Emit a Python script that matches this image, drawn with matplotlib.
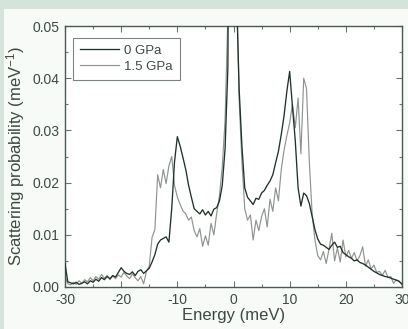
import numpy as np
import matplotlib.pyplot as plt
from matplotlib.patches import Rectangle
from matplotlib.ticker import MultipleLocator

plt.rcParams['font.family'] = ['Liberation Sans', 'DejaVu Sans']
plt.rcParams['mathtext.fontset'] = 'custom'
plt.rcParams['mathtext.rm'] = 'Liberation Sans'
plt.rcParams['mathtext.it'] = 'Liberation Sans'
plt.rcParams['axes.unicode_minus'] = False

# energy grid, 0.5 meV steps from -30 to 30
energy = np.arange(-30, 30.01, 0.5)

# 0 GPa (dark)
p0 = [
    0.0045, 0.0010, 0.0008, 0.0006, 0.0009, 0.0005, 0.0007, 0.0010, 0.0006, 0.0012,
    0.0009, 0.0015, 0.0011, 0.0018, 0.0014, 0.0020, 0.0016, 0.0022, 0.0019, 0.0028,
    0.0037, 0.0030, 0.0026, 0.0024, 0.0029, 0.0022, 0.0030, 0.0033, 0.0026, 0.0031,
    0.0036, 0.0048, 0.0062, 0.0082, 0.0090, 0.0093, 0.0096, 0.0086, 0.0150, 0.0240,
    0.0288, 0.0270, 0.0248, 0.0225, 0.0195, 0.0172, 0.0150, 0.0145, 0.0140, 0.0148,
    0.0138, 0.0145, 0.0136, 0.0149, 0.0152, 0.0165, 0.0195, 0.0265, 0.0420, 0.1600,
    0.3500, 0.0580, 0.0380, 0.0270, 0.0190, 0.0172, 0.0165, 0.0158, 0.0170, 0.0168,
    0.0180, 0.0185, 0.0195, 0.0203, 0.0215, 0.0238, 0.0260, 0.0292, 0.0328, 0.0375,
    0.0413, 0.0345, 0.0280, 0.0190, 0.0155, 0.0180, 0.0175, 0.0160, 0.0135, 0.0110,
    0.0092, 0.0082, 0.0080, 0.0076, 0.0072, 0.0080, 0.0086, 0.0076, 0.0078, 0.0066,
    0.0062, 0.0058, 0.0055, 0.0050, 0.0052, 0.0047, 0.0045, 0.0042, 0.0038, 0.0034,
    0.0030, 0.0027, 0.0024, 0.0022, 0.0020, 0.0019, 0.0017, 0.0015, 0.0013, 0.0011,
    0.0005,
]

# 1.5 GPa (light)
p15 = [
    0.0020, 0.0006, 0.0004, 0.0009, 0.0005, 0.0012, 0.0007, 0.0014, 0.0010, 0.0018,
    0.0012, 0.0020, 0.0015, 0.0024, 0.0017, 0.0022, 0.0014, 0.0021, 0.0016, 0.0023,
    0.0019, 0.0028, 0.0021, 0.0016, 0.0025, 0.0018, 0.0012, 0.0020, 0.0006, 0.0030,
    0.0040, 0.0095, 0.0110, 0.0215, 0.0190, 0.0225, 0.0198, 0.0232, 0.0250, 0.0195,
    0.0172, 0.0158, 0.0146, 0.0140, 0.0128, 0.0134, 0.0108, 0.0096, 0.0112, 0.0078,
    0.0098, 0.0080, 0.0122, 0.0100, 0.0140, 0.0175, 0.0230, 0.0320, 0.0520, 0.2000,
    0.4000, 0.0600, 0.0360, 0.0240, 0.0150, 0.0128, 0.0138, 0.0090, 0.0128, 0.0108,
    0.0135, 0.0150, 0.0115, 0.0168, 0.0145, 0.0190, 0.0165, 0.0225, 0.0262, 0.0290,
    0.0314, 0.0350, 0.0305, 0.0362, 0.0255, 0.0400, 0.0380, 0.0240, 0.0140, 0.0090,
    0.0060, 0.0052, 0.0068, 0.0045, 0.0072, 0.0103, 0.0050, 0.0075, 0.0048, 0.0090,
    0.0058, 0.0070, 0.0055, 0.0066, 0.0050, 0.0060, 0.0077, 0.0040, 0.0052, 0.0035,
    0.0042, 0.0028, 0.0030, 0.0022, 0.0032, 0.0018, 0.0020, 0.0007, 0.0014, 0.0010,
    0.0006,
]

txt = '#3c4a42'
fig = plt.figure(figsize=(4.08, 3.29), dpi=100, facecolor='#d4e4db')
fig.patches.append(Rectangle((4 / 408, 0), 1, 320 / 329, transform=fig.transFigure,
                             facecolor='#f8faf8', edgecolor='none', zorder=-10))

ax = fig.add_axes([65 / 408, 1 - 287 / 329, 337 / 408, 261 / 329])
ax.set_zorder(1)
ax.set_facecolor('white')

ax.plot(energy, p0, color='#1f3328', lw=0.95, label='0 GPa', zorder=3)
ax.plot(energy, p15, color='#8e9490', lw=0.85, label='1.5 GPa', zorder=2)

ax.set_xlim(-30, 30)
ax.set_ylim(0, 0.05)
ax.xaxis.set_major_locator(MultipleLocator(10))
ax.xaxis.set_minor_locator(MultipleLocator(5))
ax.yaxis.set_major_locator(MultipleLocator(0.01))
ax.yaxis.set_minor_locator(MultipleLocator(0.005))
ax.yaxis.set_major_formatter(lambda v, p: f'{v:.2f}')
ax.tick_params(which='both', direction='in', top=True, right=True,
               colors='#6a756f', labelcolor=txt, labelsize=10, width=0.8)
ax.tick_params(which='major', length=4, pad=4)
ax.tick_params(which='minor', length=2.5)
for s in ax.spines.values():
    s.set_color('#4c5a52')
    s.set_linewidth(1.0)

ax.set_xlabel('Energy (meV)', fontsize=12, color=txt, labelpad=1)
ax.set_ylabel('Scattering probability (meV$^{-1}$)', fontsize=12, color=txt, labelpad=4)

leg = ax.legend(loc='upper left', bbox_to_anchor=(8 / 337, 1 - 12 / 261), fontsize=9.5,
                frameon=True, fancybox=False, handlelength=3.0, handletextpad=0.4,
                borderpad=0.5, labelspacing=0.3, borderaxespad=0)
leg.get_frame().set_edgecolor('#5a6660')
leg.get_frame().set_linewidth(0.8)
for t in leg.get_texts():
    t.set_color(txt)

fig.savefig('out.png', dpi=100, facecolor=fig.get_facecolor())
